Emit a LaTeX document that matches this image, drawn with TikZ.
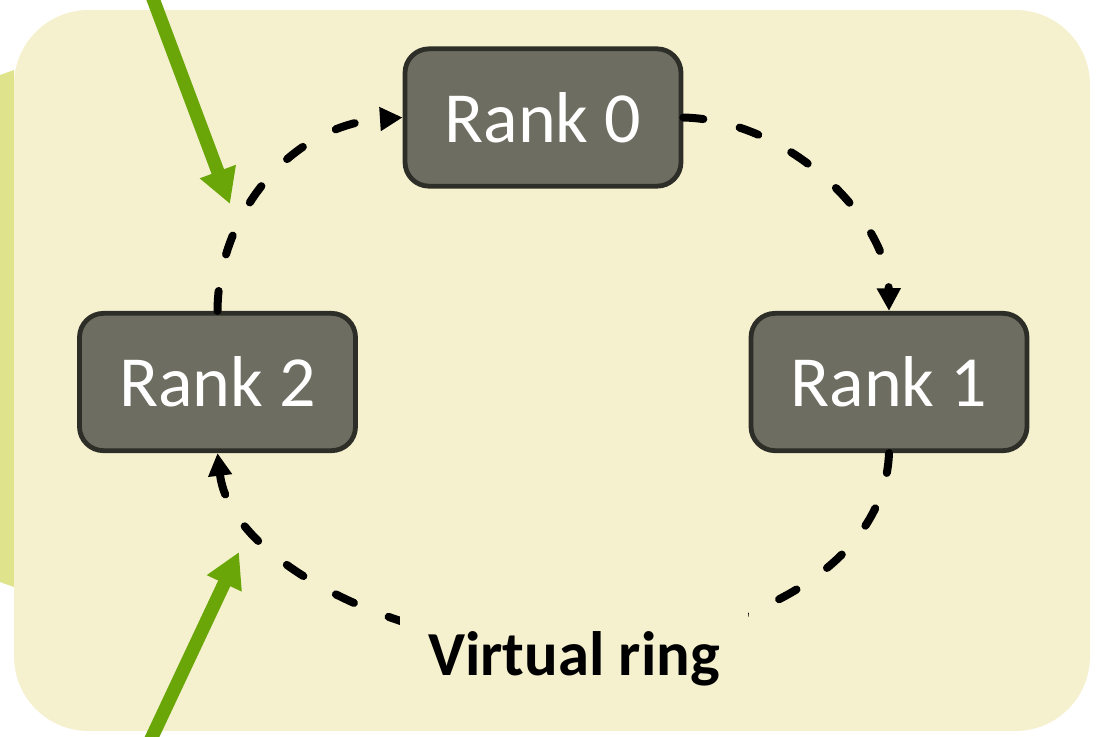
\documentclass[tikz,border=0pt]{standalone}
\usepackage{fontspec}
\setmainfont{Carlito}
\usetikzlibrary{arrows.meta}
\definecolor{panel}{RGB}{245,241,206}
\definecolor{strip}{RGB}{222,227,140}
\definecolor{rankfill}{RGB}{109,109,97}
\definecolor{rankedge}{RGB}{46,46,40}
\definecolor{feed}{RGB}{106,166,8}
\begin{document}
\begin{tikzpicture}[x=0.75pt,y=-0.75pt,
  rank/.style={draw=rankedge, fill=rankfill, line width=3.6pt, rounded corners=18pt,
    minimum width=207pt, minimum height=103pt, inner sep=0pt,
    text=white, font=\fontsize{54pt}{60pt}\selectfont},
  ringlink/.style={draw=black, line width=6pt, line cap=round,
    dash pattern=on 15pt off 28pt, -{Triangle[length=17pt,width=17pt]}},
  ringcaption/.style={fill=panel, inner sep=0pt, minimum width=261pt,
    text height=52pt, text depth=19pt, anchor=base,
    font=\bfseries\fontsize{47pt}{52pt}\selectfont},
  feedarrow/.style={draw=feed, line width=10pt, -{Triangle[length=26pt,width=27pt]}}]
\useasboundingbox (0,0) rectangle (1102,736);
\clip (0,0) rectangle (1102,736);

% background panel and the side strip behind it
\fill[strip] (0,75) -- (14,70) -- (14,587) -- (0,582) -- cycle;
\fill[panel, rounded corners=56pt] (14,10) rectangle (1090,731);

% ranks
\node[rank] (r0) at (543,117.5) {Rank 0};
\node[rank] (r1) at (889,382) {Rank 1};
\node[rank] (r2) at (217.5,382) {Rank 2};

% the ring
\draw[ringlink] (r2.north) .. controls (218,215) and (290,125) .. (r0.west);
\draw[ringlink] (r0.east) .. controls (790,120) and (888,220) .. (r1.north);
\draw[ringlink] (r1.south) .. controls (885,560) and (760,640) .. (572,648)
  .. controls (400,650) and (230,560) .. (r2.south);

\node[ringcaption] (cap) at (574,675) {Virtual ring};

% incoming arrows
\coordinate (feedA) at (146,-20);
\coordinate (feedAend) at (230,204);
\coordinate (feedB) at (144,754);
\coordinate (feedBend) at (239,552);
\draw[feedarrow] (feedA) -- (feedAend);
\draw[feedarrow] (feedB) -- (feedBend);
\end{tikzpicture}
\end{document}
